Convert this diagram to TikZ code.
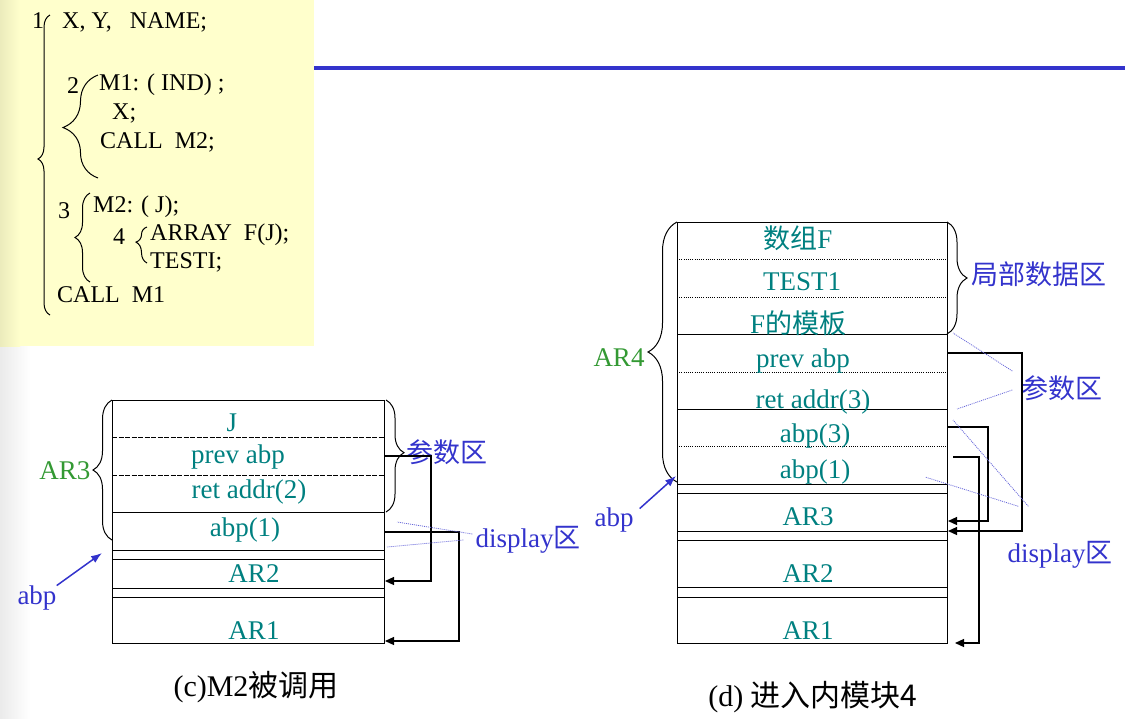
\documentclass[tikz,border=0pt]{standalone}
\usepackage{fontspec}
\setmainfont{Liberation Serif}
\newfontfamily\cjk{Noto Sans CJK SC}
\usetikzlibrary{arrows.meta,decorations.pathreplacing}
\definecolor{gelb}{HTML}{FFFFCC}
\definecolor{tuerkis}{HTML}{008080}
\definecolor{gruen}{HTML}{339933}
\definecolor{blau}{HTML}{3333CC}
\newcommand{\schrift}[1]{\fontsize{#1}{#1}\selectfont}

\begin{document}
\begin{tikzpicture}[x=1pt,y=-1pt,
		code/.style={font=\schrift{24},inner sep=0pt,anchor=base west},
		feld/.style={text=tuerkis,font=\schrift{27},inner sep=0pt},
		marke/.style={text=blau,font=\schrift{27},inner sep=0pt},
		arname/.style={text=gruen,font=\schrift{27},inner sep=0pt},
		titel/.style={font=\schrift{30},inner sep=0pt},
		klammer/.style args={#1/#2}{decorate,decoration={brace,amplitude=#1,aspect=#2},line width=1pt},
		kette/.style={line width=1.2pt,-{Triangle[length=9pt,width=8pt]}},
		zeiger/.style={blau,line width=1.5pt,-{Latex[length=11pt,width=8pt]}},
		hinweis/.style={blau!75,line width=0.8pt,dash pattern=on 1pt off 1pt},
		trenn/.style={line width=1pt,dash pattern=on 5pt off 1.5pt},
		punkt/.style={line width=1pt,dash pattern=on 1pt off 1.2pt}]
	\useasboundingbox (0,0) rectangle (1125,718);
	\shade[left color=black!8,right color=white] (0,0) rectangle (30,718);
	\fill[gelb] (0,0) rectangle (314,346);
	\shade[left color=gelb!92!black,right color=gelb] (0,0) rectangle (20,346);
	\draw[blau,line width=4pt] (314,68) -- (1125,68);

	% Programmtext
	\node[code] (n1) at (32,28) {1};
	\node[code] (z1) at (62,28) {X, Y,\ \ \ NAME;};
	\node[code] (n2) at (67,93) {2};
	\node[code] (z2) at (99,90) {M1: ( IND) ;};
	\node[code] (z3) at (112,119) {X;};
	\node[code] (z4) at (100,148) {CALL\ \ M2;};
	\node[code] (n3) at (58,218) {3};
	\node[code] (z5) at (93,212) {M2: ( J);};
	\node[code] (n4) at (113,244) {4};
	\node[code] (z6) at (150,240) {ARRAY\ \ F(J);};
	\node[code] (z7) at (150,268) {TESTI;};
	\node[code] (z8) at (57,302) {CALL\ \ M1};
	\draw[klammer=12/0.52] (50,315) -- (50,15);
	\draw[klammer=35/0.49] (98,178) -- (98,75);
	\draw[klammer=15/0.5] (90,282) -- (90,193);
	\draw[klammer=11/0.58] (147,263) -- (147,227);

	% (c) M2 aufgerufen
	\draw[line width=1pt] (112,400) rectangle (384,643);
	\draw[trenn] (112,437) -- (384,437);
	\draw[trenn] (112,475) -- (384,475);
	\foreach \y in {512,550,559,588,597}
		\draw[line width=1pt] (112,\y) -- (384,\y);
	\node[feld] (cj) at (232,423) {J};
	\node[feld] (cprev) at (238,457) {prev abp};
	\node[feld] (cret) at (249,492) {ret addr(2)};
	\node[feld] (cabp1) at (245,530) {abp(1)};
	\node[feld] (car2) at (254,574) {AR2};
	\node[feld] (car1) at (254,631) {AR1};
	\node[arname] (car3) at (65,471) {AR3};
	\node[marke] (cabp) at (37,598) {abp};
	\node[marke] (cpar) at (447,452) {{\cjk 参数区}};
	\node[marke] (cdisp) at (528,540) {display{\cjk 区}};
	\node[titel] (ctitel) at (256,687) {(c)M2{\cjk 被调用}};
	\draw[klammer=19/0.5] (112,540) -- (112,400);
	\draw[klammer=18/0.47] (386,400) -- (386,512);
	\coordinate (c1) at (384,456);
	\coordinate (c1e) at (385,581);
	\coordinate (c2) at (384,532);
	\coordinate (c2e) at (385,641);
	\draw[kette] (c1) -- ++(47,0) |- (c1e);
	\draw[kette] (c2) -- ++(75,0) |- (c2e);
	\coordinate (ch1) at (397,522);
	\coordinate (ch2) at (387,547);
	\draw[hinweis] (cdisp.west) ++(-3,-6) -- (ch1);
	\draw[hinweis] (cdisp.west) ++(-12,0) -- (ch2);
	\coordinate (cpfeil) at (102,553);
	\draw[zeiger] (cabp.north east) -- (cpfeil);

	% (d) Eintritt in Modul 4
	\draw[line width=1pt] (677,222) rectangle (947,643);
	\foreach \y in {259,297,372,446}
		\draw[punkt] (677,\y) -- (947,\y);
	\foreach \y in {334,409,484,493,531,540,587,597}
		\draw[line width=1pt] (677,\y) -- (947,\y);
	\node[feld] (df) at (798,238) {{\cjk 数组}F};
	\node[feld] (dtest) at (802,282) {TEST1};
	\node[feld] (dmuster) at (798,323) {F{\cjk 的模板}};
	\node[feld] (dprev) at (803,361) {prev abp};
	\node[feld] (dret) at (813,402) {ret addr(3)};
	\node[feld] (dabp3) at (815,436) {abp(3)};
	\node[feld] (dabp1) at (815,472) {abp(1)};
	\node[feld] (dar3) at (808,517) {AR3};
	\node[feld] (dar2) at (808,574) {AR2};
	\node[feld] (dar1) at (808,631) {AR1};
	\node[arname] (dar4) at (619,358) {AR4};
	\node[marke] (dabp) at (614,520) {abp};
	\node[marke] (dlokal) at (1039,274) {{\cjk 局部数据区}};
	\node[marke] (dpar) at (1062,388) {{\cjk 参数区}};
	\node[marke] (ddisp) at (1060,555) {display{\cjk 区}};
	\node[titel] (dtitel) at (813,697) {(d) {\cjk 进入内模块4}};
	\draw[klammer=29/0.5] (677,482) -- (677,222);
	\draw[klammer=20/0.5] (947,222) -- (947,334);
	\coordinate (d1) at (947,353);
	\coordinate (d1e) at (948,531);
	\coordinate (d2) at (947,427);
	\coordinate (d2e) at (948,521);
	\coordinate (d3) at (953,457);
	\coordinate (d3e) at (955,643);
	\draw[kette] (d1) -- ++(75,0) |- (d1e);
	\draw[kette] (d2) -- ++(41,0) |- (d2e);
	\draw[kette] (d3) -- ++(26,0) |- (d3e);
	\coordinate (dh1) at (953,333);
	\coordinate (dh2) at (957,409);
	\coordinate (dh3) at (953,420);
	\coordinate (dh4) at (925,477);
	\draw[hinweis] (dpar.west) ++(-9,-17) -- (dh1);
	\draw[hinweis] (dpar.west) ++(-9,2) -- (dh2);
	\draw[hinweis] (ddisp.north west) ++(21,-35) -- (dh3);
	\draw[hinweis] (ddisp.north west) ++(11,-35) -- (dh4);
	\coordinate (dpfeil) at (676,476);
	\draw[zeiger] (dabp.north east) ++(6,1) -- (dpfeil);
\end{tikzpicture}
\end{document}
